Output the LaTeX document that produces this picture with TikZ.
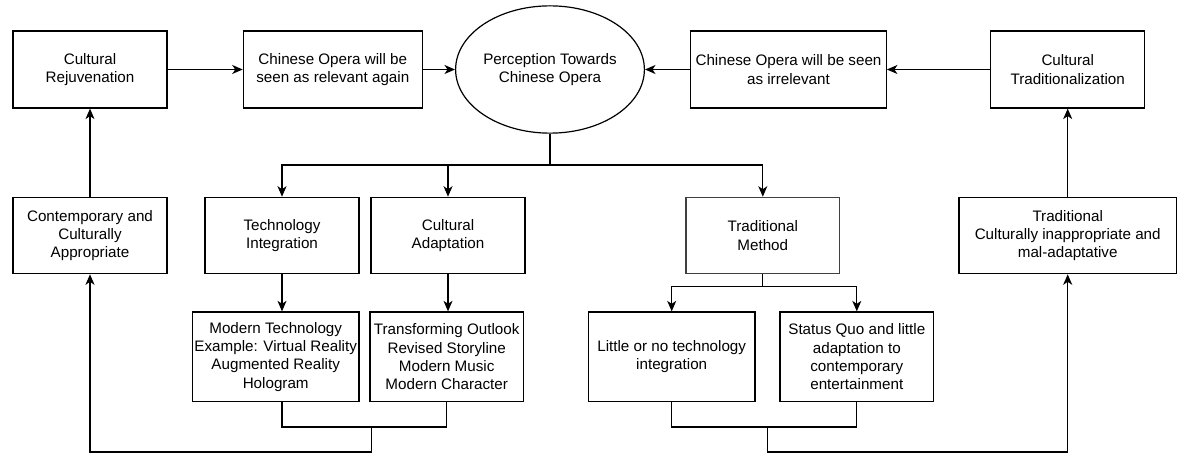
\documentclass[tikz,border=0pt]{standalone}
\usepackage{fontspec}
\setmainfont{Liberation Sans}
\usetikzlibrary{arrows.meta,shapes.geometric}
\begin{document}
\begin{tikzpicture}[x=1pt,y=-1pt,
  every node/.style={font=\fontsize{15.2}{18.3}\selectfont, align=center, inner sep=0pt, text=black},
  box/.style={draw=black, line width=1.2pt, fill=white, rectangle},
  toprow/.style={box, minimum height=77pt},
  midrow/.style={box, minimum height=76.4pt},
  lowrow/.style={box, minimum height=89.7pt},
  oval/.style={draw=black, ellipse, line width=1.2pt, fill=white, minimum width=153.4pt, minimum height=127.3pt},
  link/.style={line width=1.2pt, draw=black},
  flow/.style={link, -{Stealth[length=10.5pt,width=9pt,inset=3pt]}},
]
\useasboundingbox[fill=white] (0,0) rectangle (1183,454);

% top row
\node[toprow, minimum width=154pt] (rej) at (90,69.5) {Cultural\\Rejuvenation};
\node[toprow, minimum width=179pt] (rel) at (332.8,69.5) {Chinese Opera will be\\seen as relevant again};
\node[oval] (perc) at (550,69.5) {Perception Towards\\Chinese Opera};
\node[toprow, minimum width=195.6pt] (irr) at (788.5,69.5) {Chinese Opera will be seen\\as irrelevant};
\node[toprow, minimum width=154pt] (trz) at (1067.7,69.5) {Cultural\\Traditionalization};

% middle row
\node[midrow, minimum width=154pt] (cont) at (90,235.5) {Contemporary and\\Culturally\\Appropriate};
\node[midrow, minimum width=154pt] (tech) at (282,235.5) {Technology\\Integration};
\node[midrow, minimum width=154pt] (adap) at (448,235.5) {Cultural\\Adaptation};
\node[midrow, draw=black!75, minimum width=153.7pt] (tmeth) at (762.8,235.5) {Traditional\\Method};
\node[midrow, minimum width=217.3pt] (tinap) at (1067.7,235.5) {Traditional\\Culturally inappropriate and\\mal-adaptative};

% bottom row
\node[lowrow, minimum width=166.7pt] (mod) at (275.7,356.8) {Modern Technology\\Example: Virtual Reality\\Augmented Reality\\Hologram};
\node[lowrow, minimum width=153.3pt] (trans) at (446.7,356.8) {Transforming Outlook\\Revised Storyline\\Modern Music\\Modern Character};
\node[lowrow, minimum width=166.7pt] (little) at (671.7,356.8) {Little or no technology\\integration};
\node[lowrow, minimum width=153.7pt] (status) at (856.8,356.8) {Status Quo and little\\adaptation to\\contemporary\\entertainment};

% junction points
\coordinate (bus) at (550,165);
\coordinate (tbus) at (762.8,286.3);
\coordinate (lj) at (371.7,427);
\coordinate (lb) at (371.7,452);
\coordinate (rj) at (767.7,427);
\coordinate (rb) at (767.7,452);

% top row arrows
\draw[flow] (rej.east) -- (rel.west);
\draw[flow] (rel.east) -- (perc.west);
\draw[flow] (irr.west) -- (perc.east);
\draw[flow] (trz.west) -- (irr.east);
\draw[flow] (cont.north) -- (rej.south);
\draw[flow] (tinap.north) -- (trz.south);

% branching from the perception
\draw[link] (perc.south) -- (bus);
\draw[flow] (bus) -| (tech.north);
\draw[flow] (bus) -| (adap.north);
\draw[flow] (bus) -| (tmeth.north);

\draw[flow] (tech.south) -- (tech.south |- mod.north);
\draw[flow] (adap.south) -- (adap.south |- trans.north);
\draw[link] (tmeth.south) -- (tbus);
\draw[flow] (tbus) -| (little.north);
\draw[flow] (tbus) -| (status.north);

% feedback loops
\draw[link] (tech.south |- mod.south) -- (tech.south |- lj) -- (trans.south |- lj) -- (trans.south);
\draw[flow] (lj) -- (lb) -| (cont.south);
\draw[link] (little.south) -- (little.south |- rj) -- (status.south |- rj) -- (status.south);
\draw[flow] (rj) -- (rb) -| (tinap.south);
\end{tikzpicture}
\end{document}
